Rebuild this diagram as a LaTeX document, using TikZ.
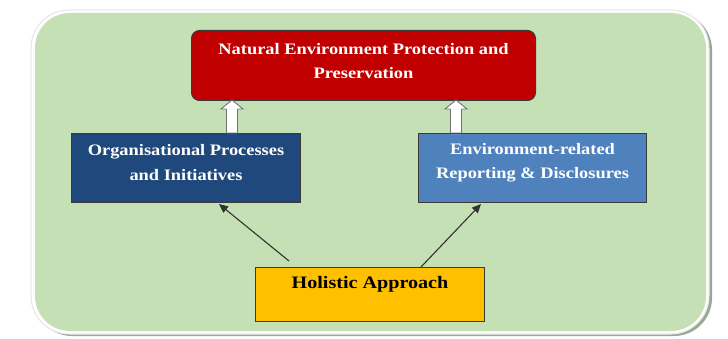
\documentclass[tikz,border=0pt]{standalone}
\usepackage{fontspec}
\setmainfont{Liberation Serif}
\newfontfamily\boxfont{Liberation Serif}[FakeStretch=1.15]
\usetikzlibrary{arrows.meta,calc}

\definecolor{panelgreen}{HTML}{C5E0B4}
\definecolor{panelshadow}{HTML}{9CA896}
\definecolor{panelrim}{HTML}{E6E6E6}
\definecolor{goalred}{HTML}{C00000}
\definecolor{darkblue}{HTML}{1F497D}
\definecolor{midblue}{HTML}{4F81BD}
\definecolor{amber}{HTML}{FFC000}
\definecolor{edgegrey}{HTML}{3A3A3A}

\tikzset{
  box/.style={draw=edgegrey, line width=1pt, inner sep=0pt, anchor=north west},
  goalbox/.style={box, fill=goalred, rounded corners=8pt},
  whitetxt/.style={text=white, font=\boxfont\fontsize{16}{24.5}\selectfont\bfseries, align=center, inner sep=0pt},
  blacktxt/.style={text=black, font=\boxfont\fontsize{17.5}{24}\selectfont\bfseries, align=center, inner sep=0pt},
  link/.style={draw=black!80, line width=1.1pt, -{Triangle[length=9pt,width=8pt]}},
  blockup/.pic={
    \draw[fill=white, draw=black!55, line width=0.9pt]
      (-5.5,0) -- (-5.5,-24) -- (-11,-24) -- (0,-33) -- (11,-24) -- (5.5,-24) -- (5.5,0) -- cycle;
  }
}

\begin{document}
\begin{tikzpicture}[x=1pt,y=-1pt]
  \useasboundingbox (0,0) rectangle (728,339);

  % background panel: shadow, white rim, green face
  \fill[panelshadow, rounded corners=38pt] (34,12) rectangle (712,336);
  \filldraw[fill=white, draw=panelrim, line width=1pt, rounded corners=38pt] (31,10) rectangle (709,334);
  \fill[panelgreen, rounded corners=35pt] (35,13) rectangle (706,331);

  % boxes
  \node[goalbox, minimum width=344pt, minimum height=70pt] (goal) at (191,30) {};
  \node[box, fill=darkblue, minimum width=229pt, minimum height=69pt] (proc) at (71,133) {};
  \node[box, fill=midblue, minimum width=228pt, minimum height=69pt] (report) at (418,133) {};
  \node[box, fill=amber, minimum width=229pt, minimum height=54pt] (holistic) at (255,267) {};

  % labels
  \node[whitetxt] (goaltxt) at ($(goal.north)+(0,31)$) {Natural Environment Protection and\\Preservation};
  \node[whitetxt] (proctxt) at ($(proc.north)+(0,29.5)$) {Organisational Processes\\and Initiatives};
  \node[whitetxt] (reporttxt) at ($(report.north)+(0,29.5)$) {Environment-related\\Reporting \& Disclosures};
  \node[blacktxt] (holtxt) at ($(holistic.north)+(0,17)$) {Holistic Approach};

  % block arrows feeding the goal
  \pic at (232,133) {blockup};
  \pic at (456,133) {blockup};

  % links from the holistic approach
  \coordinate (hl) at ($(holistic.north west)+(34,-6)$);
  \coordinate (hr) at ($(holistic.north west)+(166,0)$);
  \draw[link] (hl) -- ($(proc.south west)+(148,1)$);
  \draw[link] (hr) -- ($(report.south west)+(63,1)$);
\end{tikzpicture}
\end{document}
